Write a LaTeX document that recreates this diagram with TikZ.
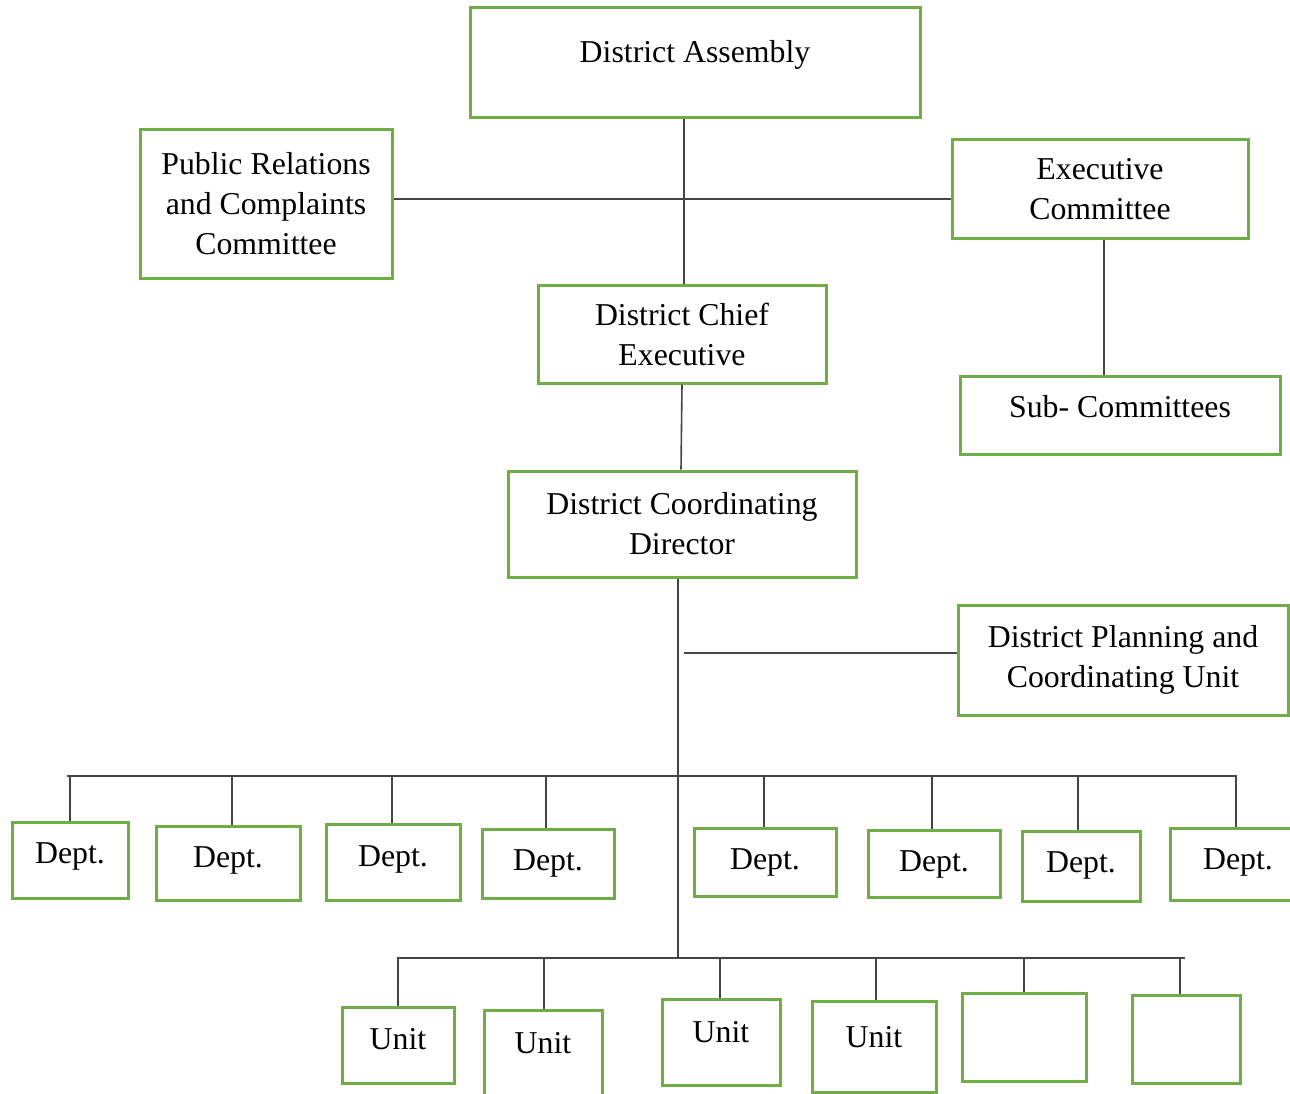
\documentclass[tikz,border=0pt]{standalone}
\usepackage{fontspec}
\setmainfont{Liberation Serif}
\definecolor{boxgreen}{HTML}{70AD47}
\definecolor{linegray}{HTML}{454545}

\begin{document}
\begin{tikzpicture}[x=1pt, y=-1pt,
    every node/.style={font=\fontsize{31.8}{40}\selectfont},
    org/.style={draw=boxgreen, line width=3pt, align=center, inner sep=0pt},
    lift/.style={text height=22pt, text depth=#1},
    link/.style={draw=linegray, line width=1.6pt}]
  \clip (0,0) rectangle (1290,1094);
  % assembly level
  \node[org, minimum width=450pt, minimum height=110pt, lift=22pt] (da) at (695,63) {District Assembly};
  \node[org, minimum width=252pt, minimum height=148pt] (pr) at (266,204) {Public Relations\\and Complaints\\Committee};
  \node[org, minimum width=296pt, minimum height=98pt] (ec) at (1100,189) {Executive\\Committee};
  \node[org, minimum width=288pt, minimum height=98pt] (dce) at (682,334) {District Chief\\Executive};
  \node[org, minimum width=320pt, minimum height=78pt, lift=18pt] (sub) at (1120,415) {Sub- Committees};
  \node[org, minimum width=348pt, minimum height=106pt] (dcd) at (682,524) {District Coordinating\\Director};
  \node[org, minimum width=330pt, minimum height=110pt] (dpcu) at (1123,660) {District Planning and\\Coordinating Unit};

  \draw[link] ([xshift=-11pt]da.south) -- ([xshift=2pt]dce.north);
  \draw[link] ([yshift=5pt]pr.east) -- ([yshift=5pt]pr.east -| ec.west);
  \draw[link] ([xshift=4pt]ec.south) -- ([xshift=4pt]ec.south |- sub.north);
  \draw[link] (dce.south) -- ([xshift=-1pt]dcd.north);
  \coordinate (ubus) at (678,958);
  \draw[link] ([xshift=-4pt]dcd.south) -- (ubus);
  \coordinate (pj) at (684,653);
  \draw[link] (pj) -- (pj -| dpcu.west);

  % departments
  \node[org, minimum width=116pt, minimum height=76pt, lift=16pt] (d1) at (70,860) {Dept.};
  \node[org, minimum width=144pt, minimum height=74pt, lift=14pt] (d2) at (228,863) {Dept.};
  \node[org, minimum width=134pt, minimum height=76pt, lift=14pt] (d3) at (393,862) {Dept.};
  \node[org, minimum width=132pt, minimum height=69pt, lift=8pt] (d4) at (548,863.5) {Dept.};
  \node[org, minimum width=142pt, minimum height=68pt, lift=8pt] (d5) at (765,862) {Dept.};
  \node[org, minimum width=132pt, minimum height=67pt, lift=7pt] (d6) at (934,863.5) {Dept.};
  \node[org, minimum width=118pt, minimum height=70pt, lift=10pt] (d7) at (1081,866) {Dept.};
  \node[org, minimum width=136pt, minimum height=72pt, lift=12pt] (d8) at (1238,864) {Dept.};
  \coordinate (dl) at (67,776);
  \coordinate (dr) at (1237,776);
  \draw[link] (dl) -- (dr);
  \foreach \n/\s in {1/0,2/4,3/-1,4/-2,5/-1,6/-2,7/-3,8/-2}
    \draw[link] ([xshift=\s pt]d\n.north |- dl) -- ([xshift=\s pt]d\n.north);

  % units
  \node[org, minimum width=112pt, minimum height=76pt, lift=14pt] (u1) at (398,1045) {Unit};
  \node[org, minimum width=118pt, minimum height=90pt, lift=26pt] (u2) at (543,1055) {Unit};
  \node[org, minimum width=118pt, minimum height=86pt, lift=22pt] (u3) at (721,1042) {Unit};
  \node[org, minimum width=124pt, minimum height=91pt, lift=21pt] (u4) at (874,1046.5) {Unit};
  \node[org, minimum width=124pt, minimum height=88pt] (u5) at (1024,1037) {};
  \node[org, minimum width=108pt, minimum height=88pt] (u6) at (1186,1039) {};
  \coordinate (ul) at (397,958);
  \coordinate (ur) at (1185,958);
  \draw[link] (ul) -- (ur);
  \foreach \n/\s in {1/0,2/1,3/-1,4/2,5/0,6/-6}
    \draw[link] ([xshift=\s pt]u\n.north |- ul) -- ([xshift=\s pt]u\n.north);
\end{tikzpicture}
\end{document}
